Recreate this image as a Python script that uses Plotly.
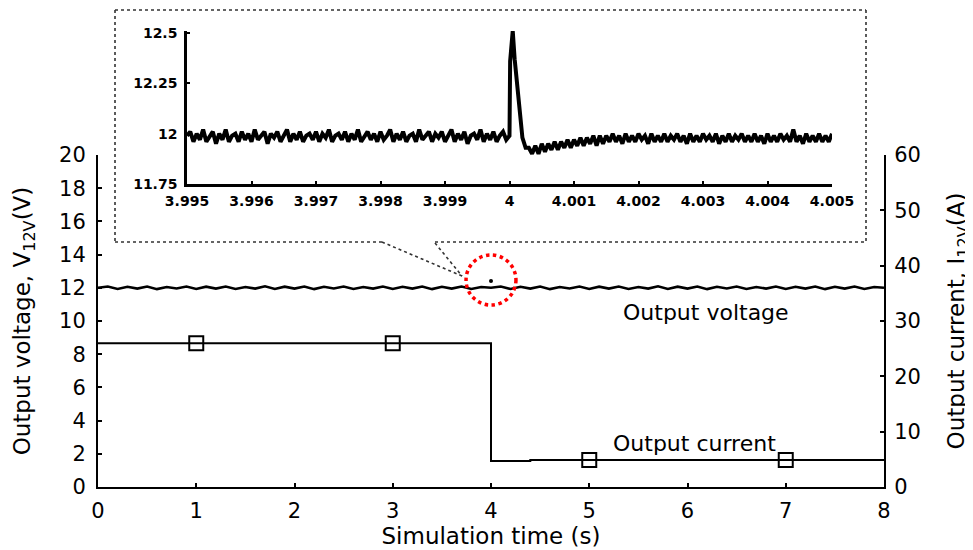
import numpy as np
import plotly.graph_objects as go

# ---------------- data ----------------
# main plot: output voltage (sampled every 0.1 s)
main_t = [round(0.1 * k, 1) for k in range(81)]
main_voltage = [12.00, 12.08, 11.93, 12.06, 11.95, 12.08, 11.92, 12.05, 11.96, 12.08,
                11.93, 12.07, 11.95, 12.08, 11.93, 12.05, 11.95, 12.09, 11.93, 12.07,
                11.95, 12.08, 11.92, 12.06, 11.96, 12.08, 11.93, 12.05, 11.95, 12.08,
                11.93, 12.06, 11.95, 12.08, 11.92, 12.06, 11.95, 12.08, 11.93, 12.05,
                12.00, 12.08, 11.93, 12.06, 11.95, 12.08, 11.92, 12.05, 11.96, 12.08,
                11.93, 12.07, 11.95, 12.08, 11.93, 12.05, 11.95, 12.09, 11.93, 12.07,
                11.95, 12.08, 11.92, 12.06, 11.96, 12.08, 11.93, 12.05, 11.95, 12.08,
                11.93, 12.06, 11.95, 12.08, 11.92, 12.06, 11.95, 12.08, 11.93, 12.05, 12.00]
spike_t = [4.0]
spike_v = [12.41]

# main plot: output current (A)
current_t = [0, 4.0, 4.0, 4.4, 4.4, 8.0]
current_a = [26.0, 26.0, 4.7, 4.7, 4.9, 4.9]
marker_t = [1, 3, 5, 7]
marker_a = [26.0, 26.0, 4.9, 4.9]

# inset: zoom of the voltage around t = 4 s
inset_step = 0.00005
pre_v = [11.99, 12.01, 11.96, 12.00, 11.97, 12.02, 11.96, 11.99, 12.01, 11.95,
         12.00, 11.97, 12.02, 11.96, 11.99, 12.00, 11.96, 12.01, 11.97, 12.00,
         11.96, 12.02, 11.97, 11.99, 12.01, 11.95, 12.00, 11.98, 12.01, 11.96,
         11.99, 12.02, 11.96, 12.00, 11.97, 12.01, 11.96, 11.99, 12.00, 11.97,
         12.01, 11.96, 12.00, 11.98, 12.02, 11.96, 11.99, 12.00, 11.97, 12.01,
         11.96, 12.00, 11.97, 12.02, 11.96, 11.99, 12.01, 11.97, 12.00, 11.96,
         12.01, 11.97, 11.99, 12.02, 11.96, 12.00, 11.97, 12.01, 11.96, 11.99,
         12.00, 11.96, 12.02, 11.97, 11.99, 12.01, 11.96, 12.00, 11.98, 12.01,
         11.96, 11.99, 12.02, 11.96, 12.00, 11.97, 12.01, 11.95, 11.99, 12.00,
         11.97, 12.02, 11.96, 12.00, 11.97, 12.01, 11.96, 11.99, 12.01, 11.97, 11.99]
peak_t = [4.00001, 4.00003, 4.00005, 4.00008, 4.00014, 4.00020, 4.00025]
peak_v = [12.36, 12.45, 12.51, 12.37, 12.15, 11.98, 11.93]
post_v = [11.93, 11.90, 11.94, 11.90, 11.95, 11.91, 11.95, 11.92, 11.96, 11.92,
          11.96, 11.93, 11.97, 11.93, 11.97, 11.94, 11.98, 11.94, 11.98, 11.95,
          11.99, 11.94, 11.99, 11.95, 11.99,
          11.96, 12.00, 11.96, 11.99, 11.95, 12.00, 11.96, 11.99, 11.96, 12.00,
          11.97, 11.99, 11.95, 12.00, 11.96, 11.99, 11.96, 12.00, 11.96, 11.99,
          11.97, 12.00, 11.96, 11.99, 11.95, 12.00, 11.96, 11.99, 11.96, 12.00,
          11.97, 11.99, 11.96, 12.00, 11.95, 11.99, 11.96, 12.00, 11.96, 11.99,
          11.97, 12.00, 11.96, 11.99, 11.96, 12.00, 11.96, 11.99, 11.95, 12.00,
          11.96, 11.99, 11.96, 12.00, 11.97, 11.99, 11.96, 12.02, 11.96, 11.99,
          11.95, 12.00, 11.96, 11.99, 11.96, 12.00, 11.96, 11.99, 11.96, 12.00]
pre_t = [round(3.995 + inset_step * k, 6) for k in range(len(pre_v))]
post_t = [round(4.0003 + inset_step * k, 6) for k in range(len(post_v))]
inset_t = pre_t + peak_t + post_t
inset_v = pre_v + peak_v + post_v

x_ticks = [0, 1, 2, 3, 4, 5, 6, 7, 8]
v_ticks = [0, 2, 4, 6, 8, 10, 12, 14, 16, 18, 20]
a_ticks = [0, 10, 20, 30, 40, 50, 60]
inset_x_ticks = [3.995, 3.996, 3.997, 3.998, 3.999, 4.0, 4.001, 4.002, 4.003, 4.004, 4.005]
inset_x_labels = ["3.995", "3.996", "3.997", "3.998", "3.999", "4",
                  "4.001", "4.002", "4.003", "4.004", "4.005"]
inset_y_ticks = [11.75, 12.0, 12.25, 12.5]
inset_y_labels = ["11.75", "12", "12.25", "12.5"]

# ---------------- figure ----------------
# the page body has an 8 px margin, so the figure starts at (8, 8) in the window
OFF = 8
W, H = 973 - OFF, 550 - OFF
FONT = "DejaVu Sans"


def px(x):
    return (x - OFF) / W


def py(y):
    return 1 - (y - OFF) / H


fig = go.Figure()

fig.add_trace(go.Scatter(x=main_t, y=main_voltage, mode="lines",
                         line=dict(color="black", width=2.6), xaxis="x", yaxis="y",
                         name="Output voltage"))
fig.add_trace(go.Scatter(x=spike_t, y=spike_v, mode="markers",
                         marker=dict(color="black", size=4), xaxis="x", yaxis="y",
                         showlegend=False))
fig.add_trace(go.Scatter(x=current_t, y=current_a, mode="lines",
                         line=dict(color="black", width=2), xaxis="x", yaxis="y2",
                         name="Output current"))
fig.add_trace(go.Scatter(x=marker_t, y=marker_a, mode="markers",
                         marker=dict(symbol="square-open", size=14, color="black",
                                     line=dict(width=2, color="black")),
                         xaxis="x", yaxis="y2", showlegend=False))
fig.add_trace(go.Scatter(x=inset_t, y=inset_v, mode="lines",
                         line=dict(color="black", width=4), xaxis="x3", yaxis="y3",
                         showlegend=False))

main_x_dom = [px(98), px(884)]
main_y_dom = [py(487), py(155)]
inset_x_dom = [px(187), px(832)]
inset_y_dom = [py(184), py(31)]

tickfont = dict(family=FONT, size=21, color="black")
titlefont = dict(family=FONT, size=23, color="black")
inset_font = dict(family=FONT, size=14, color="black", weight="bold")

fig.update_layout(
    width=W, height=H,
    margin=dict(l=0, r=0, t=0, b=0, autoexpand=False),
    paper_bgcolor="white", plot_bgcolor="rgba(0,0,0,0)",
    showlegend=False,
    xaxis=dict(domain=main_x_dom, range=[0, 8], tickvals=x_ticks, automargin=False,
               showline=True, linecolor="black", linewidth=2,
               ticks="inside", ticklen=4, tickwidth=1.5, tickcolor="black",
               showgrid=False, zeroline=False, tickfont=tickfont,
               ticklabelstandoff=4,
               title=dict(text="Simulation time (s)", font=titlefont, standoff=2),
               anchor="y"),
    yaxis=dict(domain=main_y_dom, range=[0, 20], tickvals=v_ticks, automargin=False,
               showline=True, linecolor="black", linewidth=2,
               ticks="inside", ticklen=4, tickwidth=1.5, tickcolor="black",
               showgrid=False, zeroline=False, tickfont=tickfont,
               ticklabelstandoff=6,
               title=dict(text="Output voltage, V<sub>12V</sub>(V)", font=titlefont,
                          standoff=22),
               anchor="x"),
    yaxis2=dict(domain=main_y_dom, range=[0, 60], tickvals=a_ticks, automargin=False,
                overlaying="y", side="right", anchor="x",
                showline=True, linecolor="black", linewidth=2,
                ticks="inside", ticklen=4, tickwidth=1.5, tickcolor="black",
                showgrid=False, zeroline=False, tickfont=tickfont,
                ticklabelstandoff=4,
                title=dict(text="Output current, I<sub>12V</sub>(A)", font=titlefont,
                           standoff=28)),
    xaxis3=dict(domain=inset_x_dom, range=[3.995, 4.005], tickvals=inset_x_ticks,
                ticktext=inset_x_labels, anchor="y3", automargin=False,
                showline=True, linecolor="black", linewidth=2.5,
                ticks="inside", ticklen=3, tickwidth=1.5, tickcolor="black",
                showgrid=False, zeroline=False, tickfont=inset_font,
                ticklabelstandoff=2),
    yaxis3=dict(domain=inset_y_dom, range=[11.75, 12.51], tickvals=inset_y_ticks,
                ticktext=inset_y_labels, anchor="x3", automargin=False,
                showline=True, linecolor="black", linewidth=2.5,
                ticks="inside", ticklen=3, tickwidth=1.5, tickcolor="black",
                showgrid=False, zeroline=False, tickfont=inset_font,
                ticklabelstandoff=4),
)

dotted = dict(color="#333333", width=1.6, dash="dot")
border_segments = [
    ((115, 10), (866, 10)),
    ((115, 10), (115, 242)),
    ((866, 10), (866, 242)),
    ((115, 242), (382, 242)),
    ((435, 242), (866, 242)),
    ((382, 242), (462, 276)),
    ((435, 243), (462, 276)),
]
for (x0, y0), (x1, y1) in border_segments:
    fig.add_shape(type="line", xref="paper", yref="paper",
                  x0=px(x0), y0=py(y0), x1=px(x1), y1=py(y1), line=dotted)

# red dotted circle highlighting the transient
fig.add_shape(type="circle", xref="x", yref="y",
              x0=3.746, x1=4.254, y0=10.96, y1=13.98,
              line=dict(color="red", width=3.5, dash="dot"))

ann_font = dict(family=FONT, size=22, color="black")
fig.add_annotation(x=6.19, y=10.54, xref="x", yref="y", text="Output voltage",
                   showarrow=False, font=ann_font)
fig.add_annotation(x=6.07, y=2.65, xref="x", yref="y", text="Output current",
                   showarrow=False, font=ann_font)

fig.write_html("out.html")
